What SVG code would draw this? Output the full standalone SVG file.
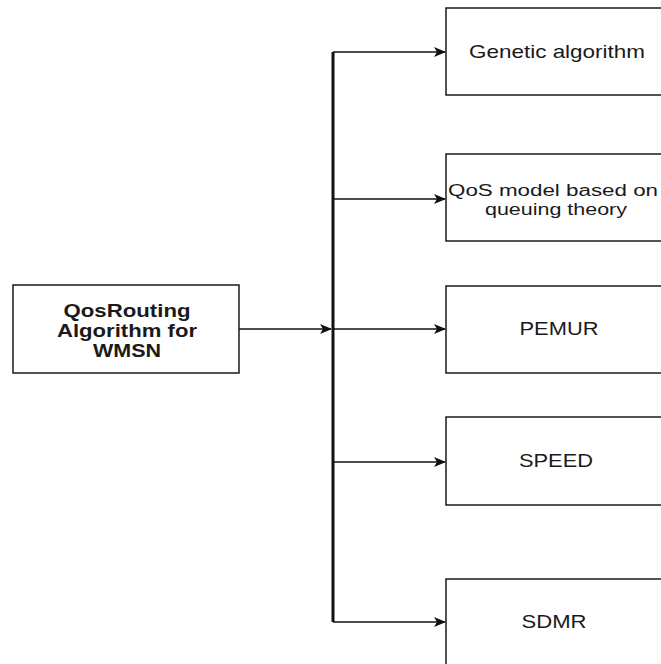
<svg xmlns="http://www.w3.org/2000/svg" width="661" height="664" viewBox="0 0 661 664">
<style>
.box{fill:#fff;stroke:#1a1a1a;stroke-width:1.5}
.t{font-family:"Liberation Sans",Arial,sans-serif;font-size:19px;fill:#1a1a1a;text-anchor:middle}
.s{font-size:16px}
.b{font-weight:bold}
.c{fill:none;stroke:#111;stroke-width:1.5}
.v{fill:none;stroke:#111;stroke-width:3}
</style>
<defs>
<marker id="ah" viewBox="0 0 12 10" refX="11" refY="5" markerWidth="12" markerHeight="10" markerUnits="userSpaceOnUse" orient="auto">
<path d="M0,0 L12,5 L0,10 L3,5 Z" fill="#111"/>
</marker>
</defs>
<rect width="661" height="664" fill="#fff"/>
<g id="connectors">
<path class="v" d="M333,52 V622"/>
<path class="c" d="M239,329 H331" marker-end="url(#ah)"/>
<path class="c" d="M333,52 H445" marker-end="url(#ah)"/>
<path class="c" d="M333,199 H445" marker-end="url(#ah)"/>
<path class="c" d="M333,329 H445" marker-end="url(#ah)"/>
<path class="c" d="M333,462 H445" marker-end="url(#ah)"/>
<path class="c" d="M333,622 H445" marker-end="url(#ah)"/>
</g>
<g id="root">
<rect class="box" x="13" y="285" width="226" height="88"/>
<text class="t b" x="127" y="317" textLength="127" lengthAdjust="spacingAndGlyphs">QosRouting</text>
<text class="t b" x="127" y="337" textLength="140" lengthAdjust="spacingAndGlyphs">Algorithm for</text>
<text class="t b" x="127" y="357" textLength="68" lengthAdjust="spacingAndGlyphs">WMSN</text>
</g>
<g id="genetic">
<rect class="box" x="446" y="8" width="222" height="87"/>
<text class="t" x="557" y="58" textLength="176" lengthAdjust="spacingAndGlyphs">Genetic algorithm</text>
</g>
<g id="qos">
<rect class="box" x="446" y="154" width="222" height="87"/>
<text class="t s" x="553" y="196" textLength="210" lengthAdjust="spacingAndGlyphs">QoS model based on</text>
<text class="t s" x="556" y="215" textLength="142" lengthAdjust="spacingAndGlyphs">queuing theory</text>
</g>
<g id="pemur">
<rect class="box" x="446" y="286" width="222" height="87"/>
<text class="t" x="559" y="335" textLength="79" lengthAdjust="spacingAndGlyphs">PEMUR</text>
</g>
<g id="speed">
<rect class="box" x="446" y="417" width="222" height="88"/>
<text class="t" x="556" y="467" textLength="74" lengthAdjust="spacingAndGlyphs">SPEED</text>
</g>
<g id="sdmr">
<rect class="box" x="446" y="579" width="222" height="100"/>
<text class="t" x="554" y="628" textLength="65" lengthAdjust="spacingAndGlyphs">SDMR</text>
</g>
</svg>
